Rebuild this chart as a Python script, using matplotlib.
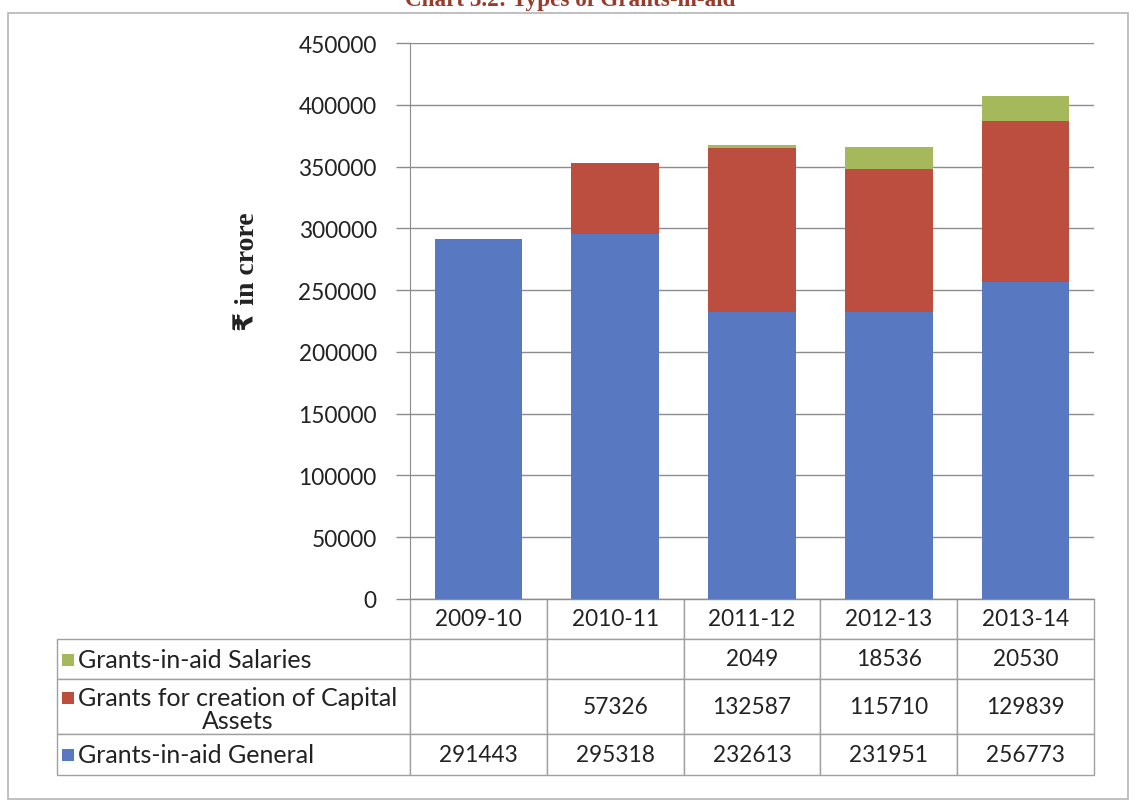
import matplotlib.pyplot as plt
from matplotlib.patches import Rectangle

# data
years = ['2009-10', '2010-11', '2011-12', '2012-13', '2013-14']
general = [291443, 295318, 232613, 231951, 256773]
capital = [None, 57326, 132587, 115710, 129839]
salaries = [None, None, 2049, 18536, 20530]
series_names = ['Grants-in-aid Salaries', 'Grants for creation of Capital\nAssets', 'Grants-in-aid General']
yticks = list(range(0, 450001, 50000))

blue = '#5878c2'
red = '#bb4e3e'
green = '#a5b85b'
grid_col = '#8c8c8c'
txt_col = '#222222'
font = 'Lato'

W, H = 1133, 804
fig = plt.figure(figsize=(W / 100, H / 100), dpi=100)
fig.patch.set_facecolor('white')

def fx(px):
    return px / W

def fy(py):
    return 1 - py / H

# outer frame
fig.add_artist(Rectangle((fx(8), fy(800)), 1120 / W, 786 / H, transform=fig.transFigure,
                         fill=False, edgecolor='#b5b5b5', linewidth=1.2))

# title, cut off at the top edge as in the scan
fig.text(fx(570), fy(6), 'Chart 3.2: Types of Grants-in-aid', ha='center', va='baseline',
         fontsize=16.7, fontweight='bold', color='#983b2b', family='Liberation Serif')

# plot area: x 408..1092, y 44..600 (pixels)
AX_L, AX_R, AX_T, AX_B = 410, 1094, 44, 600
ax_w = AX_R - AX_L
ax_h = AX_B - AX_T
ax = fig.add_axes([fx(AX_L), fy(AX_B), ax_w / W, ax_h / H])

x = list(range(len(years)))
cap0 = [v or 0 for v in capital]
sal0 = [v or 0 for v in salaries]
bot2 = [g + c for g, c in zip(general, cap0)]
ax.bar(x, general, 0.64, color=blue, zorder=2)
ax.bar(x, cap0, 0.64, bottom=general, color=red, zorder=2)
ax.bar(x, sal0, 0.64, bottom=bot2, color=green, zorder=2)

ax.set_xlim(-0.5, len(years) - 0.5)
ax.set_ylim(0, 450000)
ax.set_yticks(yticks)
ax.set_yticklabels([str(t) for t in yticks], family=font)
ax.set_xticks([])
ax.yaxis.grid(True, color=grid_col, linewidth=1)
ax.set_axisbelow(True)
ax.tick_params(axis='y', length=10, width=1, color=grid_col, pad=14, labelsize=16.3, labelcolor=txt_col)
for s in ['top', 'right']:
    ax.spines[s].set_visible(False)
ax.spines['left'].set_color(grid_col)
ax.spines['bottom'].set_color(grid_col)

fig.text(fx(247), fy(272), '₹ in crore', rotation=90, ha='center', va='center',
         fontsize=20, fontweight='bold', color=txt_col, family=['Liberation Serif', 'DejaVu Sans'])

# data table under the chart, first column holds the series names
def fmt(v):
    return '' if v is None else str(v)

cell_text = [[''] + [fmt(v) for v in salaries],
             [''] + [fmt(v) for v in capital],
             [''] + [fmt(v) for v in general]]
row_h = [40, 40, 55, 41]
label_w = AX_L - 57
col_w = ax_w / len(years)
tot_h = sum(row_h)
tbl = ax.table(cellText=cell_text, colLabels=[''] + years, cellLoc='center',
               bbox=[-label_w / ax_w, -tot_h / ax_h, 1 + label_w / ax_w, tot_h / ax_h])
tbl.auto_set_font_size(False)
tbl.set_fontsize(16.3)
for (r, c), cell in tbl.get_celld().items():
    cell.set_height(row_h[r])
    cell.set_width(label_w if c == 0 else col_w)
    cell.set_edgecolor('#a0a0a0')
    cell.set_linewidth(1)
    cell.get_text().set_color(txt_col)
    cell.get_text().set_family(font)
tbl[0, 0].visible_edges = 'open'
tbl[0, 0].set_facecolor('none')

# legend keys + series names in the label column
colors = [green, red, blue]
label_y = [661, 710, 756]
for name, col, yy in zip(series_names, colors, label_y):
    first_y = yy if '\n' not in name else yy - 11
    fig.add_artist(Rectangle((fx(62), fy(first_y + 6)), 12 / W, 12 / H, transform=fig.transFigure,
                             facecolor=col, edgecolor='none'))
    fig.text(fx(78), fy(yy), name, ha='left', va='center', multialignment='center',
             fontsize=18, color=txt_col, family=font, linespacing=1.05)

fig.savefig('out.png', dpi=100)
